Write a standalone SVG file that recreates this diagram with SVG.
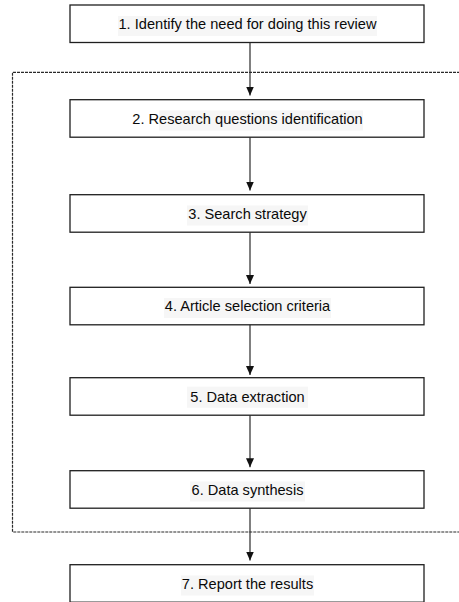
<svg xmlns="http://www.w3.org/2000/svg" width="459" height="602" viewBox="0 0 459 602">
<defs>
<style>
.box{fill:#ffffff;stroke:#1f1f1f;stroke-width:1.3}
.hl{fill:#f6f6f6}
.lbl{font-family:"Liberation Sans",Arial,sans-serif;font-size:14.6px;fill:#0a0a0a;text-anchor:middle}
.conn{stroke:#2a2a2a;stroke-width:1.2;fill:none}
.dash{stroke:#2a2a2a;stroke-width:1.2;fill:none;stroke-dasharray:3 1}
</style>
<marker id="ah" markerWidth="9" markerHeight="8" refX="9" refY="4" orient="auto" markerUnits="userSpaceOnUse">
<path d="M0,0 L9,4 L0,8 Z" fill="#111"/>
</marker>
</defs>
<rect width="459" height="602" fill="#ffffff"/>
<path class="dash" d="M460,72.3 H12.5 V532 H460"/>
<g id="n1"><rect class="box" x="70" y="5" width="354" height="37.5"/><rect class="hl" x="118" y="16" width="259" height="20"/><text class="lbl" x="247.5" y="29">1. Identify the need for doing this review</text></g>
<g id="n2"><rect class="box" x="70" y="99.7" width="354" height="37.5"/><rect class="hl" x="159" y="110.5" width="204" height="20"/><text class="lbl" x="247.5" y="123.7">2. Research questions identification</text></g>
<g id="n3"><rect class="box" x="70" y="194.7" width="354" height="37.5"/><rect class="hl" x="187" y="205.5" width="121" height="20"/><text class="lbl" x="247.5" y="218.7">3. Search strategy</text></g>
<g id="n4"><rect class="box" x="70" y="287.3" width="354" height="37.5"/><rect class="hl" x="164" y="298" width="167" height="20"/><text class="lbl" x="247.5" y="311.3">4. Article selection criteria</text></g>
<g id="n5"><rect class="box" x="70" y="377.7" width="354" height="37.5"/><rect class="hl" x="187" y="386.7" width="121" height="21"/><text class="lbl" x="247.5" y="402.3">5. Data extraction</text></g>
<g id="n6"><rect class="box" x="70" y="470.7" width="354" height="37.5"/><rect class="hl" x="190" y="481.5" width="115" height="20"/><text class="lbl" x="247.5" y="494.7">6. Data synthesis</text></g>
<g id="n7"><rect class="box" x="70" y="564.7" width="354" height="37.5"/><rect class="hl" x="181" y="575.5" width="133" height="20"/><text class="lbl" x="247.5" y="588.7">7. Report the results</text></g>
<g id="connectors">
<line class="conn" x1="250" y1="42.5" x2="250" y2="95.5" marker-end="url(#ah)"/>
<line class="conn" x1="250" y1="137.2" x2="250" y2="190.5" marker-end="url(#ah)"/>
<line class="conn" x1="250" y1="232.2" x2="250" y2="284" marker-end="url(#ah)"/>
<line class="conn" x1="250" y1="324.8" x2="250" y2="375" marker-end="url(#ah)"/>
<line class="conn" x1="250" y1="415.2" x2="250" y2="467.3" marker-end="url(#ah)"/>
<line class="conn" x1="250" y1="508.2" x2="250" y2="560.5" marker-end="url(#ah)"/>
</g>
</svg>
